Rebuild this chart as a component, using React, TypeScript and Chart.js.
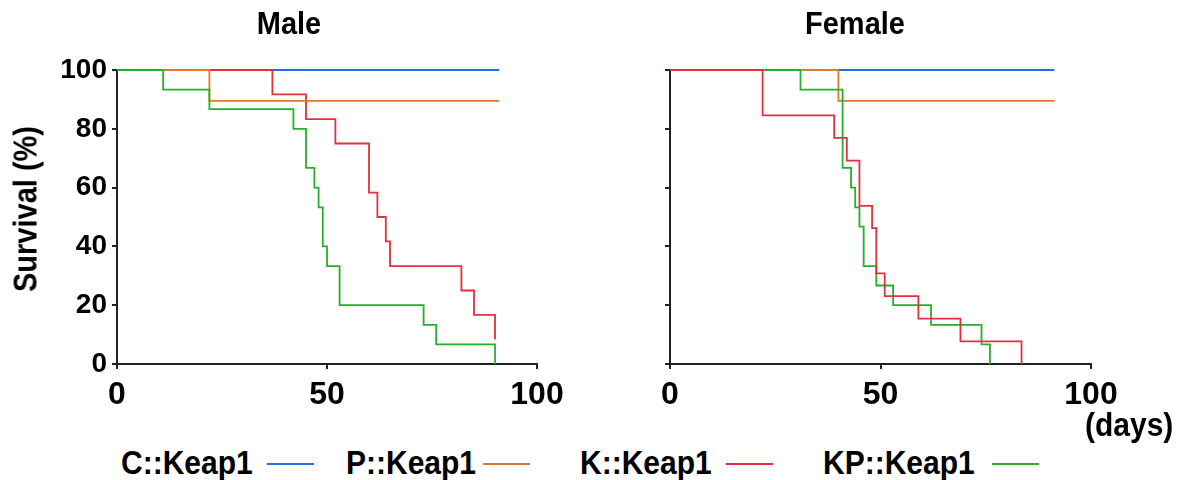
import React, { useEffect, useRef } from "react";
import { Chart, registerables } from "chart.js";

Chart.register(...registerables);

// ---------- data ----------
const seriesNames = ["C::Keap1", "P::Keap1", "K::Keap1", "KP::Keap1"];
const seriesColors = ["#1f6fe8", "#e07b2c", "#e2303e", "#25b02b"];

const maleCDays = [0, 91];
const maleCSurv = [100, 100];
const malePDays = [0, 22, 91];
const malePSurv = [100, 89.5, 89.5];
const maleKDays = [0, 37, 45, 52, 60, 62, 64, 65, 82, 85, 90];
const maleKSurv = [100, 91.7, 83.3, 75, 58.3, 50, 41.7, 33.3, 25, 16.7, 8.3];
const maleKPDays = [0, 11, 22, 42, 45, 47, 48, 49, 50, 53, 73, 76, 90];
const maleKPSurv = [100, 93.3, 86.7, 80, 66.7, 60, 53.3, 40, 33.3, 20, 13.3, 6.7, 0];

const femaleCDays = [0, 91.3];
const femaleCSurv = [100, 100];
const femalePDays = [0, 40, 91.4];
const femalePSurv = [100, 89.5, 89.5];
const femaleKDays = [0, 22, 39, 42, 45, 48, 49, 51, 59, 69, 83.5];
const femaleKSurv = [100, 84.6, 76.9, 69.2, 53.8, 46.2, 30.8, 23.1, 15.4, 7.7, 0];
const femaleKPDays = [0, 31, 41, 43, 44, 45, 46, 49, 53, 62, 74, 76];
const femaleKPSurv = [100, 93.3, 66.7, 60, 53.3, 46.7, 33.3, 26.7, 20, 13.3, 6.7, 0];

const panelTitles = ["Male", "Female"];
const yTickValues = [0, 20, 40, 60, 80, 100];
const xTickValues = [0, 50, 100];
const yAxisTitle = "Survival (%)";
const xAxisUnit = "(days)";

// drawing order (lower = on top)
const maleOrder = [4, 2, 3, 1];
const femaleOrder = [4, 3, 1, 2];

const FONT = "'Liberation Sans', Arial, Helvetica, sans-serif";

function toPoints(days: number[], surv: number[]) {
  return days.map((d, i) => ({ x: d, y: surv[i] }));
}

type PanelSpec = {
  canvas: HTMLCanvasElement;
  series: { days: number[]; surv: number[] }[];
  order: number[];
  yWidth: number;
  padRight: number;
  showYLabels: boolean;
};

function makePanel(spec: PanelSpec) {
  const datasets = spec.series.map((s, i) => ({
    label: seriesNames[i],
    data: toPoints(s.days, s.surv),
    borderColor: seriesColors[i],
    backgroundColor: seriesColors[i],
    borderWidth: 1.8,
    pointRadius: 0,
    fill: false,
    stepped: "before" as const,
    order: spec.order[i],
    clip: 6,
  }));
  return new Chart(spec.canvas, {
    type: "line",
    data: { datasets },
    options: {
      responsive: false,
      animation: false,
      devicePixelRatio: 1,
      layout: {
        autoPadding: false,
        padding: { top: 70, left: 0, right: spec.padRight, bottom: 0 },
      },
      plugins: {
        legend: { display: false },
        tooltip: { enabled: false },
        title: { display: false },
      },
      scales: {
        x: {
          type: "linear",
          min: 0,
          max: 100,
          afterBuildTicks: (scale: any) => {
            scale.ticks = xTickValues.map((v) => ({ value: v }));
          },
          afterFit: (scale: any) => {
            scale.height = 56;
            scale.paddingLeft = 0;
            scale.paddingRight = 0;
          },
          border: { display: true, color: "#222", width: 2 },
          grid: {
            drawOnChartArea: false,
            drawTicks: true,
            tickLength: 5,
            color: "#222",
            lineWidth: 2,
          },
          ticks: {
            color: "#000",
            font: { family: FONT, size: 32, weight: "bold" },
            padding: 7,
            maxRotation: 0,
            autoSkip: false,
          },
        },
        y: {
          type: "linear",
          min: 0,
          max: 100,
          afterBuildTicks: (scale: any) => {
            scale.ticks = yTickValues.map((v) => ({ value: v }));
          },
          afterFit: (scale: any) => {
            scale.width = spec.yWidth;
            scale.paddingTop = 0;
            scale.paddingBottom = 0;
          },
          border: { display: true, color: "#222", width: 2 },
          grid: {
            drawOnChartArea: false,
            drawTicks: true,
            tickLength: 5,
            color: "#222",
            lineWidth: 2,
          },
          ticks: {
            display: spec.showYLabels,
            color: "#000",
            font: { family: FONT, size: 28, weight: "bold" },
            padding: 5,
            autoSkip: false,
          },
        },
      },
    },
  } as any);
}

const textStyle: React.CSSProperties = {
  position: "absolute",
  fontFamily: FONT,
  fontWeight: "bold",
  color: "#000",
  lineHeight: 1,
  whiteSpace: "nowrap",
};

export default function App() {
  const maleRef = useRef<HTMLCanvasElement>(null);
  const femaleRef = useRef<HTMLCanvasElement>(null);

  useEffect(() => {
    const c1 = makePanel({
      canvas: maleRef.current!,
      series: [
        { days: maleCDays, surv: maleCSurv },
        { days: malePDays, surv: malePSurv },
        { days: maleKDays, surv: maleKSurv },
        { days: maleKPDays, surv: maleKPSurv },
      ],
      order: maleOrder,
      yWidth: 117,
      padRight: 43,
      showYLabels: true,
    });
    const c2 = makePanel({
      canvas: femaleRef.current!,
      series: [
        { days: femaleCDays, surv: femaleCSurv },
        { days: femalePDays, surv: femalePSurv },
        { days: femaleKDays, surv: femaleKSurv },
        { days: femaleKPDays, surv: femaleKPSurv },
      ],
      order: femaleOrder,
      yWidth: 80,
      padRight: 59,
      showYLabels: false,
    });
    return () => {
      c1.destroy();
      c2.destroy();
    };
  }, []);

  const legendTextLeft = [121, 346, 580, 823];
  const legendLineLeft = [267, 483, 726, 992];

  return (
    <div
      style={{
        position: "absolute",
        left: 0,
        top: 0,
        width: 1186,
        height: 480,
        background: "#fff",
        overflow: "hidden",
      }}
    >
      <canvas
        ref={maleRef}
        width={580}
        height={420}
        style={{ position: "absolute", left: 0, top: 0, display: "block" }}
      />
      <canvas
        ref={femaleRef}
        width={560}
        height={420}
        style={{ position: "absolute", left: 590, top: 0, display: "block" }}
      />
      <div style={{ ...textStyle, fontSize: 29, left: 289, top: 9, transform: "translateX(-50%) scaleY(1.1)" }}>
        {panelTitles[0]}
      </div>
      <div style={{ ...textStyle, fontSize: 29, left: 855, top: 9, transform: "translateX(-50%) scaleY(1.1)" }}>
        {panelTitles[1]}
      </div>
      <div
        style={{
          ...textStyle,
          fontSize: 29,
          left: 26,
          top: 209,
          transform: "translate(-50%, -50%) rotate(-90deg) scaleY(1.12)",
        }}
      >
        {yAxisTitle}
      </div>
      <div style={{ ...textStyle, fontSize: 30, left: 1085, top: 410, transform: "scaleY(1.1)" }}>{xAxisUnit}</div>
      {seriesNames.map((name, i) => (
        <React.Fragment key={name}>
          <div style={{ ...textStyle, fontSize: 30, left: legendTextLeft[i], top: 448, transform: "scaleY(1.1)" }}>
            {name}
          </div>
          <div
            style={{
              position: "absolute",
              left: legendLineLeft[i],
              top: 463,
              width: 47,
              height: 2,
              background: seriesColors[i],
            }}
          />
        </React.Fragment>
      ))}
    </div>
  );
}
